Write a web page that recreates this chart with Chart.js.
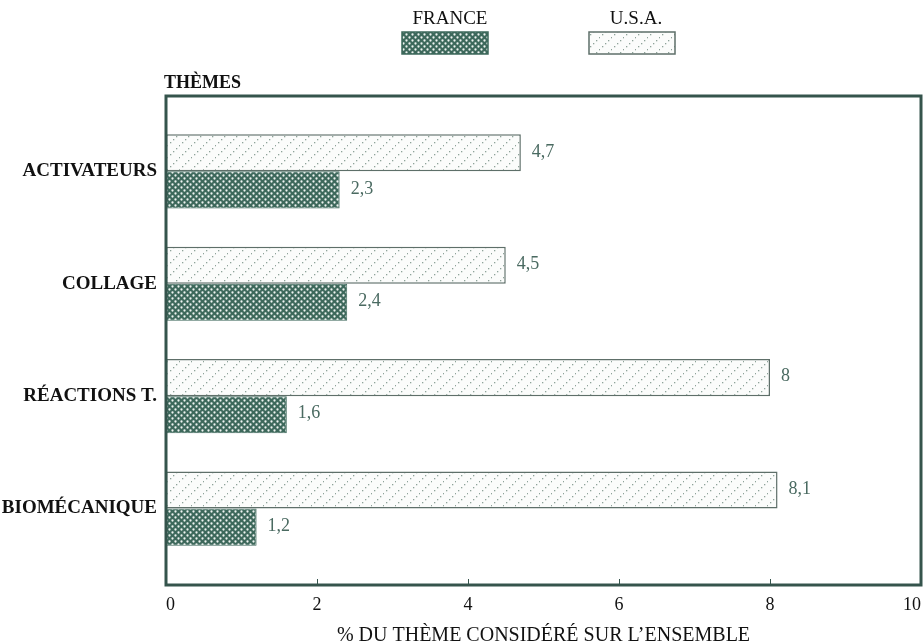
<!DOCTYPE html>
<html>
<head>
<meta charset="utf-8">
<script src="https://cdn.jsdelivr.net/npm/chart.js@4"></script>
<style>
  html, body { margin: 0; padding: 0; background: #fff; }
  #wrap { width: 924px; height: 644px; position: relative; }
</style>
</head>
<body>
<div id="wrap"><canvas id="chart" width="924" height="644"></canvas></div>
<script>
// ===== data =====
const categories = ['ACTIVATEURS', 'COLLAGE', 'RÉACTIONS T.', 'BIOMÉCANIQUE'];
const usaValues = [4.7, 4.5, 8, 8.1];
const franceValues = [2.3, 2.4, 1.6, 1.2];
const xTicks = [0, 2, 4, 6, 8, 10];

const SERIF = '"Liberation Serif", "DejaVu Serif", serif';
const frameColor = '#35544c';
const labelColor = '#4a6a61';

// hatch patterns
function makeFrancePattern() {
  const c = document.createElement('canvas');
  c.width = 6; c.height = 6;
  const g = c.getContext('2d');
  g.fillStyle = '#3d685b';
  g.fillRect(0, 0, 6, 6);
  g.fillStyle = '#eef3f0';
  [[1.5, 1.5], [4.5, 4.5]].forEach(p => {
    g.beginPath(); g.arc(p[0], p[1], 1.15, 0, Math.PI * 2); g.fill();
  });
  return g.createPattern(c, 'repeat');
}
function makeUsaPattern() {
  const c = document.createElement('canvas');
  c.width = 12; c.height = 12;
  const g = c.getContext('2d');
  g.fillStyle = '#fbfcfb';
  g.fillRect(0, 0, 12, 12);
  g.fillStyle = '#8ea39a';
  [[2, 10], [5, 7], [8, 4], [11, 1]].forEach(p => {
    g.fillRect(p[0], p[1], 1.3, 1.3);
  });
  return g.createPattern(c, 'repeat');
}
const francePattern = makeFrancePattern();
const usaPattern = makeUsaPattern();

const fmt = v => String(v).replace('.', ',');

// frame, ticks, labels, legend
const decor = {
  id: 'decor',
  afterDatasetsDraw(chart) {
    const ctx = chart.ctx;
    const a = chart.chartArea;
    ctx.save();
    // value labels
    ctx.font = '18px ' + SERIF;
    ctx.fillStyle = labelColor;
    ctx.textAlign = 'left';
    ctx.textBaseline = 'middle';
    chart.data.datasets.forEach((ds, di) => {
      chart.getDatasetMeta(di).data.forEach((bar, i) => {
        ctx.fillText(fmt(ds.data[i].x), bar.x + 11, bar.y - 1);
      });
    });
    // frame
    ctx.strokeStyle = frameColor;
    ctx.lineWidth = 3;
    ctx.strokeRect(a.left, a.top, a.right - a.left, a.bottom - a.top);
    // inward ticks
    const xs = chart.scales.x;
    ctx.lineWidth = 1;
    xTicks.slice(1, -1).forEach(t => {
      const px = Math.round(xs.getPixelForValue(t)) + 0.5;
      ctx.beginPath(); ctx.moveTo(px, a.bottom); ctx.lineTo(px, a.bottom - 6); ctx.stroke();
    });
    // header
    ctx.fillStyle = '#111';
    ctx.font = 'bold 18px ' + SERIF;
    ctx.textAlign = 'left';
    ctx.textBaseline = 'alphabetic';
    ctx.fillText('THÈMES', 164, 88);
    // x title
    ctx.font = '20px ' + SERIF;
    ctx.textAlign = 'center';
    ctx.fillText('% DU THÈME CONSIDÉRÉ SUR L\u2019ENSEMBLE', (a.left + a.right) / 2, 641);
    // legend
    const items = [
      { text: 'FRANCE', fill: francePattern, x: 402, tx: 450, border: '#3d685b' },
      { text: 'U.S.A.', fill: usaPattern, x: 589, tx: 636, border: '#5e6f69' }
    ];
    items.forEach(it => {
      ctx.fillStyle = '#111';
      ctx.font = '19px ' + SERIF;
      ctx.fillText(it.text, it.tx, 24);
      ctx.fillStyle = it.fill;
      ctx.fillRect(it.x, 32, 86, 22);
      ctx.strokeStyle = it.border;
      ctx.lineWidth = 1.5;
      ctx.strokeRect(it.x, 32, 86, 22);
    });
    ctx.restore();
  }
};

new Chart(document.getElementById('chart'), {
  type: 'bar',
  data: {
    datasets: [
      {
        label: 'U.S.A.',
        data: categories.map((c, i) => ({ x: usaValues[i], y: i })),
        backgroundColor: usaPattern,
        borderColor: '#5e6f69',
        borderWidth: 1.5,
        borderSkipped: false,
        categoryPercentage: 0.66,
        barPercentage: 1
      },
      {
        label: 'FRANCE',
        data: categories.map((c, i) => ({ x: franceValues[i], y: i })),
        backgroundColor: francePattern,
        borderColor: '#3d685b',
        borderWidth: 1,
        borderSkipped: false,
        categoryPercentage: 0.66,
        barPercentage: 1
      }
    ]
  },
  options: {
    indexAxis: 'y',
    responsive: false,
    animation: false,
    layout: { padding: { top: 96, right: 3, left: 0, bottom: 0 } },
    plugins: {
      legend: { display: false },
      tooltip: { enabled: false }
    },
    scales: {
      x: {
        type: 'linear',
        min: 0,
        max: 10,
        afterBuildTicks: s => { s.ticks = xTicks.map(v => ({ value: v })); },
        afterFit: s => { s.height = 59; s.paddingLeft = 0; s.paddingRight = 0; },
        grid: { display: false, drawTicks: false },
        border: { display: false },
        ticks: {
          align: 'inner',
          padding: 9,
          color: '#111',
          font: { family: SERIF, size: 18 }
        }
      },
      y: {
        type: 'linear',
        reverse: true,
        offset: false,
        min: -0.67,
        max: 3.68,
        afterBuildTicks: s => { s.ticks = categories.map((c, i) => ({ value: i })); },
        afterFit: s => { s.width = 166; },
        grid: { display: false, drawTicks: false },
        border: { display: false },
        ticks: {
          padding: 9,
          color: '#111',
          font: { family: SERIF, size: 19, weight: 'bold' },
          callback: v => categories[v]
        }
      }
    }
  },
  plugins: [decor]
});
</script>
</body>
</html>
